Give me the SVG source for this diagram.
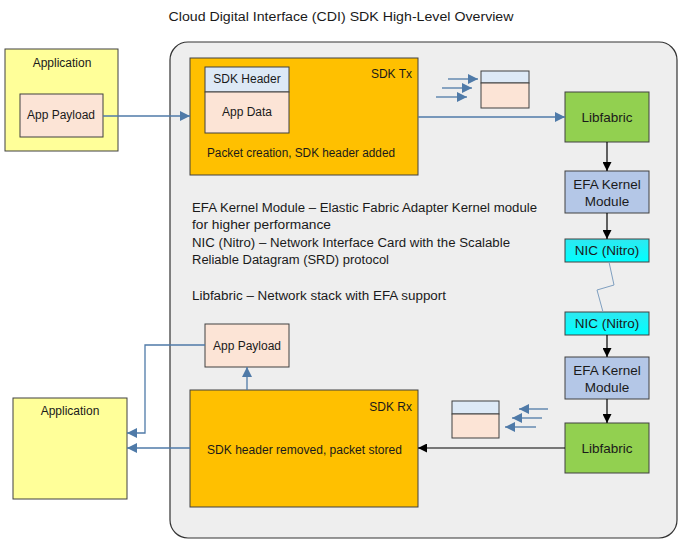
<svg xmlns="http://www.w3.org/2000/svg" width="683" height="545" viewBox="0 0 683 545">
<defs>
<marker id="ab" viewBox="0 0 10 10" refX="10" refY="5" markerWidth="10" markerHeight="10" markerUnits="userSpaceOnUse" orient="auto"><path d="M0,0 L10,5 L0,10 z" fill="#4f7aa8"/></marker>
<marker id="ak" viewBox="0 0 10 10" refX="10" refY="5" markerWidth="9" markerHeight="9" markerUnits="userSpaceOnUse" orient="auto"><path d="M0,0 L10,5 L0,10 z" fill="#000"/></marker>
<linearGradient id="nic" x1="0" y1="0" x2="0" y2="1"><stop offset="0" stop-color="#2ee8f0"/><stop offset="1" stop-color="#00ffff"/></linearGradient>
</defs>
<style>
text{font-family:"Liberation Sans",Arial,sans-serif;font-size:12px;fill:#1a1a1a}
.c{text-anchor:middle}
.r{text-anchor:end}
.big{font-size:13.5px}
.box{stroke:#404040;stroke-width:1}
.blue{stroke:#4f7aa8;stroke-width:1.3;fill:none}
.blk{stroke:#000;stroke-width:1.2;fill:none}
</style>
<rect width="683" height="545" fill="#fff"/>
<text x="341" y="21" class="c" font-size="13.5" textLength="345" lengthAdjust="spacingAndGlyphs">Cloud Digital Interface (CDI) SDK High-Level Overview</text>

<g id="container"><rect x="170" y="42" width="507" height="496" rx="18" fill="#eeeeee" stroke="#333" stroke-width="1.2"/></g>

<g id="app-top"><rect class="box" x="5" y="49" width="113" height="102" fill="#ffff99"/><text x="62" y="67" class="c">Application</text></g>
<g id="payload-top"><rect class="box" x="20" y="94" width="83" height="43" fill="#fce4d6"/><text x="61" y="119" class="c">App Payload</text></g>

<g id="sdk-tx"><rect class="box" x="190" y="58" width="228" height="117" fill="#ffc000"/><text x="412" y="78" class="r" font-size="14.5">SDK Tx</text><text x="207" y="157" textLength="188" lengthAdjust="spacingAndGlyphs">Packet creation, SDK header added</text></g>
<g id="packet-tx"><rect class="box" x="205" y="67" width="84" height="25" fill="#dde9f6"/><rect class="box" x="205" y="92" width="84" height="41" fill="#fce4d6"/><text x="247" y="83" class="c">SDK Header</text><text x="247" y="116" class="c">App Data</text></g>

<g id="icon-tx"><rect class="box" x="481" y="71" width="48" height="12" fill="#dde9f6"/><rect class="box" x="481" y="83" width="48" height="25" fill="#fce4d6"/></g>
<g id="icon-rx"><rect class="box" x="452" y="401" width="47" height="13" fill="#dde9f6"/><rect class="box" x="452" y="414" width="47" height="24" fill="#fce4d6"/></g>

<g id="lib-top"><rect class="box" x="565" y="92" width="84" height="50" fill="#92d050"/><text x="607" y="122" class="c big">Libfabric</text></g>
<g id="efa-top"><rect class="box" x="565" y="171" width="84" height="42" fill="#b4c7e7"/><text x="607" y="189" class="c big">EFA Kernel</text><text x="607" y="206" class="c big">Module</text></g>
<g id="nic-top"><rect class="box" x="565" y="239" width="84" height="23" fill="url(#nic)"/><text x="607" y="255" class="c big">NIC (Nitro)</text></g>
<g id="nic-bot"><rect class="box" x="565" y="312" width="84" height="23" fill="url(#nic)"/><text x="607" y="328" class="c big">NIC (Nitro)</text></g>
<g id="efa-bot"><rect class="box" x="565" y="357" width="84" height="42" fill="#b4c7e7"/><text x="607" y="375" class="c big">EFA Kernel</text><text x="607" y="392" class="c big">Module</text></g>
<g id="lib-bot"><rect class="box" x="565" y="423" width="84" height="50" fill="#92d050"/><text x="607" y="453" class="c big">Libfabric</text></g>

<g id="sdk-rx"><rect class="box" x="190" y="390" width="228" height="117" fill="#ffc000"/><text x="412" y="411" class="r" font-size="14.5">SDK Rx</text><text x="207" y="454" textLength="195" lengthAdjust="spacingAndGlyphs">SDK header removed, packet stored</text></g>
<g id="payload-bot"><rect class="box" x="205" y="324" width="84" height="43" fill="#fce4d6"/><text x="247" y="350" class="c">App Payload</text></g>
<g id="app-bot"><rect class="box" x="13" y="398" width="114" height="101" fill="#ffff99"/><text x="70" y="415" class="c">Application</text></g>

<g id="notes">
<text x="192" y="212" textLength="345" lengthAdjust="spacingAndGlyphs">EFA Kernel Module – Elastic Fabric Adapter Kernel module</text>
<text x="192" y="229" textLength="139" lengthAdjust="spacingAndGlyphs">for higher performance</text>
<text x="192" y="247" textLength="318" lengthAdjust="spacingAndGlyphs">NIC (Nitro) – Network Interface Card with the Scalable</text>
<text x="192" y="264" textLength="197" lengthAdjust="spacingAndGlyphs">Reliable Datagram (SRD) protocol</text>
<text x="192" y="300" textLength="254" lengthAdjust="spacingAndGlyphs">Libfabric – Network stack with EFA support</text>
</g>

<g id="connectors">
<line class="blue" x1="103" y1="116" x2="190" y2="116" marker-end="url(#ab)"/>
<line class="blue" x1="418" y1="117" x2="565" y2="117" marker-end="url(#ab)"/>
<line class="blue" x1="448" y1="79" x2="478" y2="79" marker-end="url(#ab)"/>
<line class="blue" x1="442" y1="88" x2="472" y2="88" marker-end="url(#ab)"/>
<line class="blue" x1="436" y1="97" x2="467" y2="97" marker-end="url(#ab)"/>
<line class="blk" x1="607" y1="142" x2="607" y2="171" marker-end="url(#ak)"/>
<line class="blk" x1="607" y1="213" x2="607" y2="239" marker-end="url(#ak)"/>
<polyline points="609,262 614,285 597,290 603,312" fill="none" stroke="#7f9fc0" stroke-width="1"/>
<line class="blk" x1="607" y1="335" x2="607" y2="357" marker-end="url(#ak)"/>
<line class="blk" x1="607" y1="399" x2="607" y2="423" marker-end="url(#ak)"/>
<line class="blk" x1="565" y1="448" x2="418" y2="448" marker-end="url(#ak)"/>
<line class="blue" x1="548" y1="409" x2="519" y2="409" marker-end="url(#ab)"/>
<line class="blue" x1="542" y1="418" x2="512" y2="418" marker-end="url(#ab)"/>
<line class="blue" x1="536" y1="427" x2="505" y2="427" marker-end="url(#ab)"/>
<line class="blue" x1="247" y1="390" x2="247" y2="367" marker-end="url(#ab)"/>
<polyline class="blue" points="205,345 145,345 145,433 127,433" marker-end="url(#ab)"/>
<line class="blue" x1="190" y1="448" x2="127" y2="448" marker-end="url(#ab)"/>
</g>
</svg>
